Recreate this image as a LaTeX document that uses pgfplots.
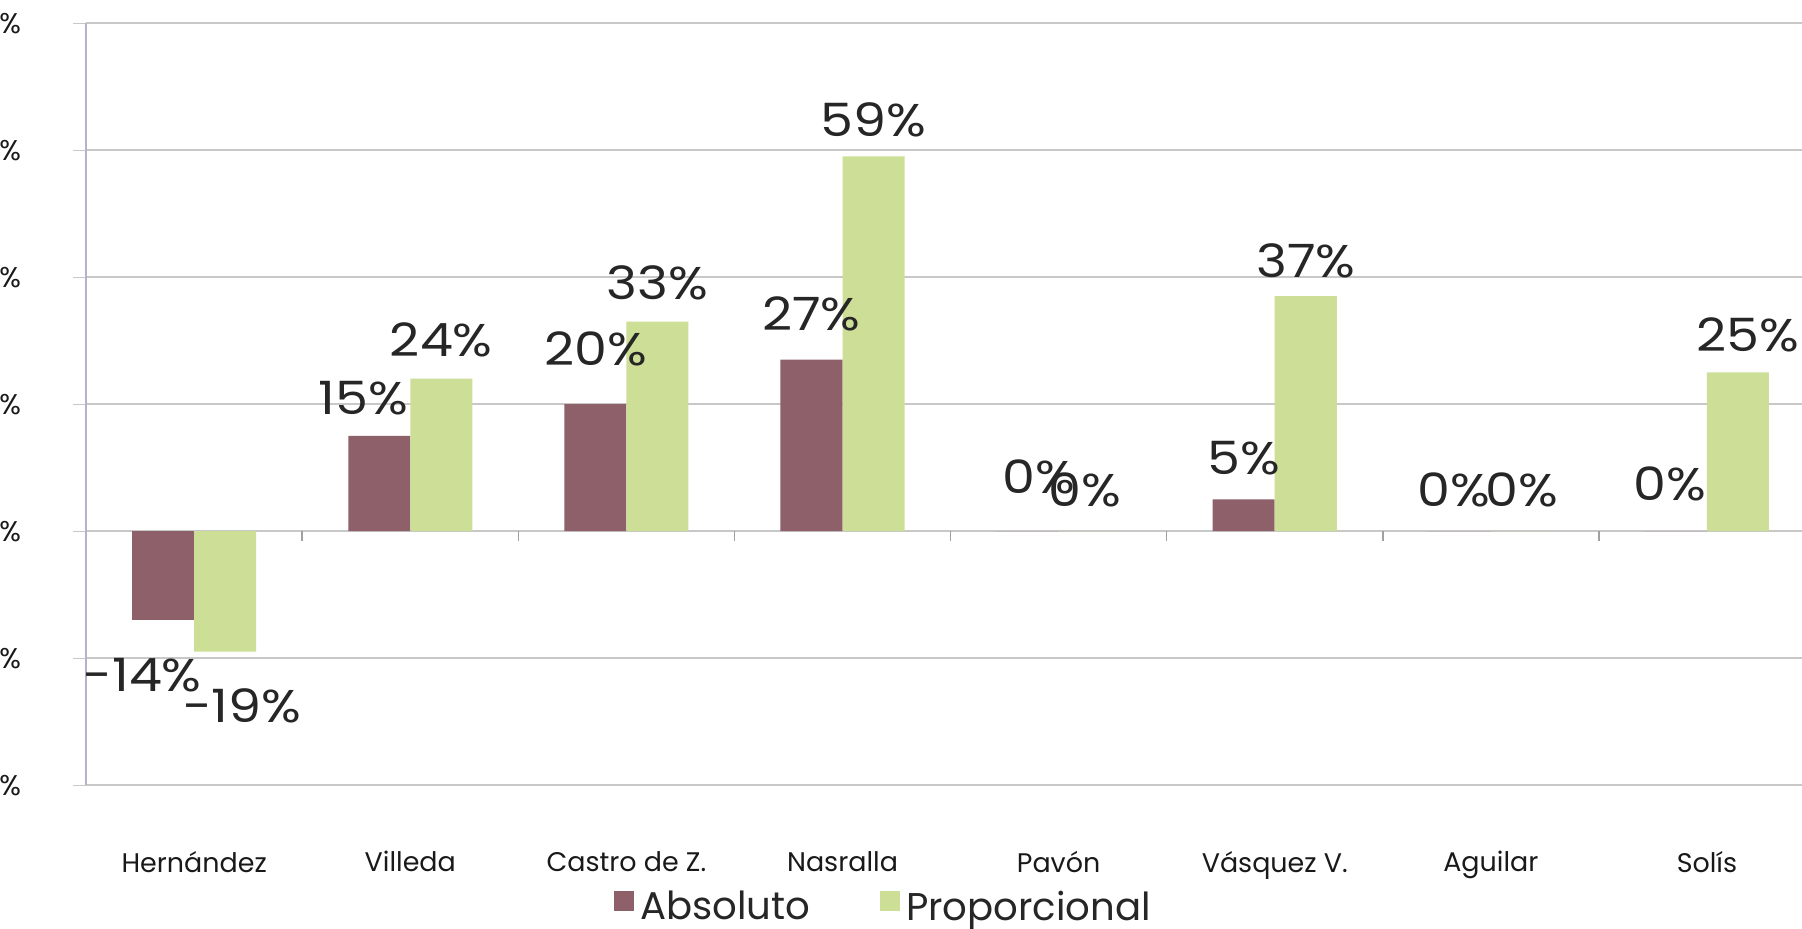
\documentclass[border=0pt]{standalone}
\usepackage{fontspec}
\setmainfont{Poppins}
\newfontfamily\widefont[FakeStretch=1.14]{Poppins}
\usepackage{pgfplots}
\usepackage{pgfplotstable}
\pgfplotsset{compat=1.18}

\definecolor{absc}{RGB}{141,96,106}
\definecolor{propc}{RGB}{205,222,150}
\definecolor{gridc}{RGB}{200,200,200}
\definecolor{yaxc}{RGB}{184,176,200}

% x, value, label shift (pt)
\pgfplotstableread{
x y dx dy
0 -14 -6.5 -8.7
1 15 -5 3
2 20 0 8.4
3 27 0 5.4
4 0 3.6 8.3
5 5 0 4
6 0 -2 4
7 0 -2 5.8
}\absoluto
\pgfplotstableread{
x y dx dy
0 -19 5.4 -8
1 24 0 3.3
2 33 0 3.3
3 59 0 2.5
4 0 -1.5 4
5 37 0 2.2
6 0 0 4
7 25 3 3
}\proporcional

\begin{document}
\begin{tikzpicture}
\path[use as bounding box] (-27.2pt,-45.4pt) rectangle (541.8pt,247.9pt);
\clip (-27.2pt,-45.4pt) rectangle (541.8pt,247.9pt);
\begin{axis}[
    scale only axis,
    width=541.8pt, height=240.6pt,
    ybar=0pt, bar width=0.287,
    xmin=-0.5, xmax=7.44,
    ymin=-40, ymax=80,
    enlargelimits=false,
    axis y line*=left, axis x line*=bottom,
    x axis line style={draw=none},
    y axis line style={yaxc, line width=0.8pt},
    xtick=data,
    xticklabels={Hernández,Villeda,Castro de Z.,Nasralla,Pavón,Vásquez V.,Aguilar,Solís},
    xtick style={draw=none},
    xticklabel style={font=\fontsize{8.5}{10}\selectfont, text=black!90, yshift=-13.4pt},
    ytick={-40,-20,...,80},
    yticklabel={\pgfmathprintnumber{\tick}\%},
    yticklabel style={font=\fontsize{9}{10}\selectfont, text=black!90, xshift=-13pt},
    ytick style={gridc},
    tick align=outside, major tick length=4pt,
    ymajorgrids, grid style={gridc, line width=0.5pt},
    /pgf/number format/assume math mode=true,
    visualization depends on={\thisrow{dx} \as \mydx},
    visualization depends on={\thisrow{dy} \as \mydy},
    nodes near coords={\pgfmathprintnumber[fixed,precision=0]{\pgfplotspointmeta}\%},
    nodes near coords style={font=\widefont\fontsize{14.5}{17}\selectfont, text=black!85, xshift=\mydx pt, yshift=\mydy pt},
    legend columns=2,
    legend style={draw=none, fill=none, at={(0.466,-0.161)}, anchor=center,
        font=\fontsize{12.2}{15}\selectfont, text=black!85,
        /tikz/every even column/.append style={column sep=20pt}},
    legend image code/.code={\fill[#1] (0pt,-1pt) rectangle (6.2pt,5.2pt);},
]
\addplot[fill=absc, draw=none] table[x=x, y=y] {\absoluto};
\addplot[fill=propc, draw=none] table[x=x, y=y] {\proporcional};
\legend{Absoluto, Proporcional}
\pgfplotsinvokeforeach{0.5,1.5,2.5,3.5,4.5,5.5,6.5}{
  \draw[gridc!80!black, line width=0.5pt] (axis cs:#1,0) -- ([yshift=-3pt]axis cs:#1,0);
}
\end{axis}
\end{tikzpicture}
\end{document}
